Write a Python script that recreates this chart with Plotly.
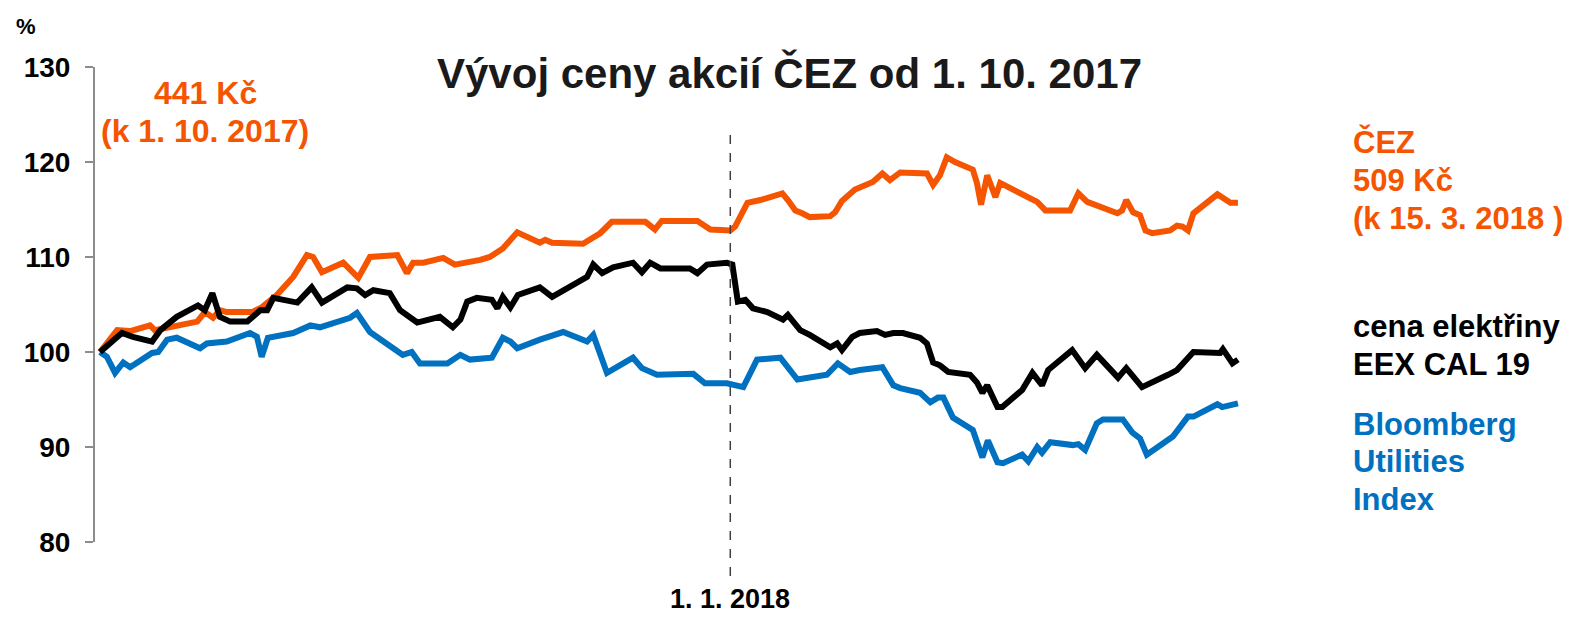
import plotly.graph_objects as go
import pandas as pd

# ---------------- data (days since 1. 10. 2017, index value in %) ----------------
base_date = pd.Timestamp("2017-10-01")

cez_days = [0, 2.5, 4.4, 7.3, 8.0, 9.8, 14.2, 15.3, 16.5, 17.5,
            18.5, 22.2, 23.6, 25.8, 28.2, 30.2, 31.1, 32.4, 35.5, 37.7,
            39.4, 43.4, 44.8, 45.7, 47.2, 50.1, 51.8, 55.5, 56.9, 58.8,
            60.9, 64.2, 65.0, 66.0, 70.5, 73.0, 74.7, 79.6, 81.0, 82.0,
            87.2, 89.1, 92.0, 92.7, 94.5, 96.4, 99.6, 100.4, 101.5, 102.5,
            103.6, 106.6, 107.3, 108.3, 110.2, 112.8, 114.2, 115.3, 116.8, 120.7,
            121.6, 122.6, 123.6, 124.8, 127.4, 128.0, 128.6, 129.5, 130.7, 131.4,
            135.0, 136.8, 138.0, 141.6, 142.0, 142.8, 144.1, 146.4, 148.5, 149.2,
            149.8, 150.8, 151.8, 152.6, 153.6, 156.2, 157.2, 158.0, 158.8, 159.6,
            161.6, 163.1, 165.0, 166.1]
cez_vals = [100, 102.3, 102.2, 102.8, 102.3, 102.6, 103.2, 104.2, 103.6, 104.4,
            104.2, 104.2, 104.7, 106.0, 107.9, 110.2, 110.0, 108.4, 109.4, 107.8,
            110.0, 110.2, 108.3, 109.4, 109.4, 109.9, 109.2, 109.7, 110.0, 110.9,
            112.6, 111.5, 111.8, 111.5, 111.4, 112.5, 113.7, 113.7, 112.9, 113.8,
            113.8, 112.9, 112.8, 113.2, 115.7, 116.0, 116.7, 116.0, 114.9, 114.6,
            114.2, 114.3, 114.7, 115.9, 117.1, 117.9, 118.8, 118.1, 118.9, 118.8,
            117.6, 118.6, 120.5, 120.0, 119.2, 117.8, 115.5, 118.6, 116.3, 117.8,
            116.5, 115.8, 114.9, 114.9, 115.5, 116.7, 115.8, 115.2, 114.6, 114.9,
            116.0, 114.7, 114.4, 112.8, 112.5, 112.8, 113.3, 113.2, 112.8, 114.6,
            115.8, 116.6, 115.7, 115.7]

eex_days = [0, 1.5, 3.2, 4.8, 7.6, 8.8, 11.2, 14.3, 15.3, 16.4,
            17.5, 19.0, 21.5, 23.4, 24.4, 25.3, 28.8, 30.9, 32.4, 36.1,
            37.5, 38.7, 39.9, 42.3, 43.8, 46.3, 49.6, 51.5, 52.6, 53.6,
            55.0, 57.2, 58.0, 58.8, 59.9, 61.0, 64.2, 66.0, 68.6, 71.1,
            72.0, 73.3, 74.9, 77.8, 79.1, 80.3, 81.8, 86.1, 87.2, 88.6,
            91.5, 92.3, 93.1, 94.2, 95.3, 97.4, 99.7, 100.4, 102.2, 103.6,
            106.6, 107.6, 108.3, 109.8, 110.9, 113.4, 114.6, 115.8, 117.2, 119.7,
            120.7, 121.6, 122.6, 123.8, 127.0, 128.0, 128.8, 129.5, 131.0, 131.7,
            134.6, 136.1, 137.5, 138.4, 141.9, 143.8, 145.5, 148.6, 149.8, 152.1,
            155.9, 157.2, 159.6, 163.5, 163.9, 165.3, 166.1]
eex_vals = [100, 100.9, 102.0, 101.6, 101.1, 102.3, 103.7, 104.9, 104.4, 106.2,
            103.7, 103.2, 103.2, 104.4, 104.4, 105.7, 105.2, 106.8, 105.2, 106.8,
            106.7, 106.0, 106.5, 106.2, 104.4, 103.1, 103.7, 102.6, 103.4, 105.3,
            105.7, 105.5, 104.6, 105.8, 104.7, 106.0, 106.8, 105.8, 106.8, 107.9,
            109.2, 108.3, 108.9, 109.4, 108.4, 109.4, 108.8, 108.8, 108.3, 109.2,
            109.4, 109.2, 105.3, 105.5, 104.6, 104.2, 103.4, 103.9, 102.3, 101.8,
            100.5, 100.9, 100.2, 101.6, 102.0, 102.2, 101.8, 102.0, 102.0, 101.5,
            100.9, 98.9, 98.6, 97.9, 97.6, 96.8, 95.7, 96.5, 94.2, 94.2,
            96.0, 97.8, 96.5, 98.1, 100.2, 98.3, 99.7, 97.3, 98.3, 96.3,
            97.6, 98.1, 100.0, 99.9, 100.3, 98.8, 99.2]

bbg_days = [0, 1.0, 2.2, 3.4, 4.4, 7.6, 8.5, 9.8, 11.2, 14.6,
            15.6, 18.5, 21.9, 22.9, 23.6, 24.5, 28.2, 30.7, 32.1, 36.5,
            37.5, 39.4, 44.2, 45.5, 46.7, 50.7, 52.6, 54.0, 57.2, 58.8,
            59.9, 60.9, 64.2, 67.6, 71.1, 72.0, 74.0, 77.8, 79.1, 81.3,
            86.6, 88.3, 91.5, 93.9, 95.9, 99.3, 101.8, 106.1, 107.7, 109.5,
            110.9, 114.2, 115.8, 116.8, 119.7, 121.2, 122.3, 123.1, 124.5, 127.4,
            128.8, 129.6, 131.0, 131.8, 134.6, 135.5, 136.8, 137.5, 138.7, 142.0,
            142.8, 143.8, 145.5, 146.4, 149.3, 150.7, 151.8, 152.8, 156.6, 158.8,
            159.6, 163.1, 163.8, 166.1]
bbg_vals = [100, 99.5, 97.8, 98.9, 98.4, 99.9, 100.0, 101.3, 101.5, 100.4,
            100.9, 101.1, 102.0, 101.6, 99.5, 101.5, 102.0, 102.8, 102.6, 103.6,
            104.1, 102.1, 99.7, 100.0, 98.8, 98.8, 99.7, 99.2, 99.4, 101.5,
            101.1, 100.4, 101.3, 102.1, 101.1, 101.8, 97.8, 99.4, 98.3, 97.6,
            97.7, 96.7, 96.7, 96.3, 99.2, 99.4, 97.1, 97.6, 98.8, 97.9,
            98.1, 98.4, 96.5, 96.2, 95.7, 94.7, 95.2, 95.2, 93.1, 91.8,
            88.9, 90.7, 88.4, 88.3, 89.2, 88.5, 90.0, 89.4, 90.5, 90.2,
            90.3, 89.7, 92.5, 92.9, 92.9, 91.5, 90.9, 89.2, 91.1, 93.2,
            93.2, 94.5, 94.2, 94.6]

y_tick_vals = [80, 90, 100, 110, 120, 130]
divider_day = 92  # 1. 1. 2018

title_text = "Vývoj ceny akcií ČEZ od 1. 10. 2017"
left_lines = ["441 Kč", "(k 1. 10. 2017)"]
cez_lines = ["ČEZ", "509 Kč", "(k 15. 3. 2018 )"]
eex_lines = ["cena elektřiny", "EEX CAL 19"]
bbg_lines = ["Bloomberg", "Utilities", "Index"]
divider_label = "1. 1. 2018"

# ---------------- styling / layout ----------------
ORANGE = "#F55500"
BLUE = "#0070C0"
BLACK = "#000000"
FONT = "Arial, Liberation Sans, sans-serif"

OFF = 8  # page body margin
W, H = 1571 - OFF, 617 - OFF
PL, PR, PT, PB = 95, 1240, 67, 542          # plot box in page pixels
L, R, T, B = PL - OFF, W - (PR - OFF), PT - OFF, H - (PB - OFF)
PW, PH = PR - PL, PB - PT
D0, D1 = -0.73, 166.4


def to_dates(days):
    return base_date + pd.to_timedelta(days, unit="D")


def px_x(p):
    return (p - PL) / PW


def px_y(p):
    return (PB - p) / PH


fig = go.Figure()
for days, vals, col in [(cez_days, cez_vals, ORANGE),
                        (bbg_days, bbg_vals, BLUE),
                        (eex_days, eex_vals, BLACK)]:
    fig.add_trace(go.Scatter(x=to_dates(days), y=vals, mode="lines",
                             line=dict(color=col, width=6), hoverinfo="skip",
                             showlegend=False))

jan_x = (divider_day - D0) / (D1 - D0)

fig.add_shape(type="line", xref="paper", yref="paper",
              x0=jan_x, x1=jan_x, y0=px_y(576), y1=px_y(133),
              line=dict(color="#404040", width=1.5, dash="dash"))

ann = []
ann.append(dict(text="<b>" + title_text + "</b>", x=px_x(789), y=px_y(73),
                xanchor="center", yanchor="middle",
                font=dict(family=FONT, size=42, color="#1a1a1a")))
ann.append(dict(text="<b>%</b>", x=px_x(26), y=px_y(27), xanchor="center", yanchor="middle",
                font=dict(family=FONT, size=22, color="black")))
for txt, yc in zip(left_lines, [93, 131]):
    ann.append(dict(text="<b>" + txt + "</b>", x=px_x(205), y=px_y(yc),
                    xanchor="center", yanchor="middle",
                    font=dict(family=FONT, size=32, color=ORANGE)))
for lines, ys, col in [(cez_lines, [142, 180, 219], ORANGE),
                       (eex_lines, [326, 364], BLACK),
                       (bbg_lines, [424, 461, 499], BLUE)]:
    for txt, yc in zip(lines, ys):
        ann.append(dict(text="<b>" + txt + "</b>", x=px_x(1351), y=px_y(yc),
                        xanchor="left", yanchor="middle",
                        font=dict(family=FONT, size=31, color=col)))
ann.append(dict(text="<b>" + divider_label + "</b>", x=jan_x, y=px_y(599),
                xanchor="center", yanchor="middle", borderpad=0,
                font=dict(family=FONT, size=27, color="black")))
for a in ann:
    a.update(xref="paper", yref="paper", showarrow=False)

fig.update_layout(
    width=W, height=H,
    margin=dict(l=L, r=R, t=T, b=B, pad=0),
    paper_bgcolor="white", plot_bgcolor="white",
    annotations=ann,
    xaxis=dict(range=[to_dates([D0])[0], to_dates([D1])[0]], visible=False,
               showgrid=False, zeroline=False),
    yaxis=dict(range=[80, 130], tickvals=y_tick_vals, showgrid=False, zeroline=False,
               showline=True, linecolor="#8c8c8c", linewidth=2,
               ticks="outside", ticklen=8, tickwidth=2, tickcolor="#8c8c8c",
               ticklabelstandoff=9,
               tickfont=dict(family=FONT, size=28, color="black", weight="bold")),
)

fig.write_html("out.html")
